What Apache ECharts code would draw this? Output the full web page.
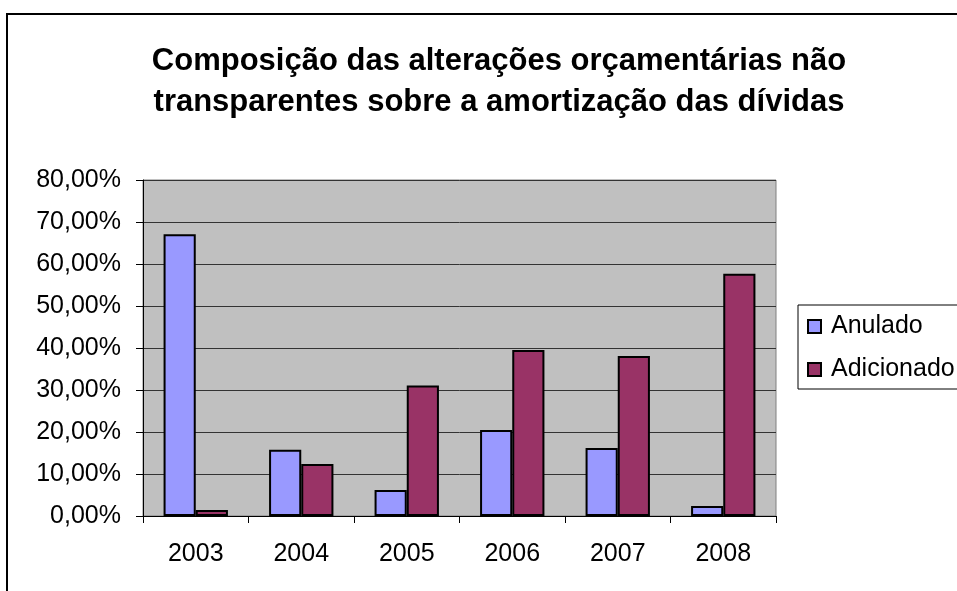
<!DOCTYPE html>
<html>
<head>
<meta charset="utf-8">
<script src="https://cdn.jsdelivr.net/npm/echarts@6/dist/echarts.min.js"></script>
<style>
  html, body { margin: 0; padding: 0; background: #fff; }
  #main { width: 957px; height: 591px; }
</style>
</head>
<body>
<div id="main"></div>
<script>
// anos e valores (%)
var anos = ['2003', '2004', '2005', '2006', '2007', '2008']
var anulado = [67.1, 15.8, 6.2, 20.5, 16.2, 2.4]
var adicionado = [1.4, 12.4, 31.1, 39.5, 38.1, 57.7]

var fonte = 'Liberation Sans, Arial, sans-serif'

function pct(v){
  return v.toFixed(2).replace('.', ',') + '%'
}

var myChart = echarts.init(document.getElementById('main'))

myChart.setOption({
  animation: false,
  backgroundColor: '#fff',
  title: {
    text: 'Composição das alterações orçamentárias não\ntransparentes sobre a amortização das dívidas',
    left: 494,
    top: 36,
    textAlign: 'center',
    textStyle: {
      fontFamily: fonte,
      fontWeight: 'bold',
      fontSize: 31,
      lineHeight: 41,
      color: '#000'
    }
  },
  graphic: [{
    type: 'rect',
    shape: { x: 7, y: 14, width: 1000, height: 700 },
    style: { fill: 'none', stroke: '#000', lineWidth: 2 },
    silent: true
  }],
  legend: {
    orient: 'vertical',
    left: 798,
    top: 305,
    padding: [9, 20, 7, 9],
    itemGap: 18,
    itemWidth: 13,
    itemHeight: 13,
    borderColor: '#000',
    borderWidth: 1,
    backgroundColor: '#fff',
    icon: 'rect',
    data: ['Anulado', 'Adicionado'],
    textStyle: { fontFamily: fonte, fontSize: 25, color: '#000', padding: [0, 0, 0, 5] }
  },
  grid: {
    left: 143,
    top: 180,
    width: 633,
    height: 336,
    show: true,
    backgroundColor: '#c0c0c0',
    borderColor: '#808080',
    borderWidth: 1
  },
  xAxis: {
    type: 'category',
    data: anos,
    axisLine: { lineStyle: { color: '#000', width: 1 } },
    axisTick: { show: true, length: 7, lineStyle: { color: '#000' } },
    axisLabel: { fontFamily: fonte, fontSize: 25, color: '#000', margin: 26 }
  },
  yAxis: {
    type: 'value',
    min: 0,
    max: 80,
    interval: 10,
    axisLine: { show: true, lineStyle: { color: '#000', width: 1 } },
    axisTick: { show: true, length: 7, lineStyle: { color: '#000' } },
    splitLine: { lineStyle: { color: '#333', width: 1 } },
    axisLabel: {
      fontFamily: fonte, fontSize: 25, color: '#000', margin: 22,
      formatter: pct
    }
  },
  series: [{
    name: 'Anulado',
    type: 'bar',
    data: anulado,
    barGap: '0%',
    barCategoryGap: '39%',
    itemStyle: { color: '#9999ff', borderColor: '#000', borderWidth: 2 }
  }, {
    name: 'Adicionado',
    type: 'bar',
    data: adicionado,
    itemStyle: { color: '#993366', borderColor: '#000', borderWidth: 2 }
  }]
})
</script>
</body>
</html>
